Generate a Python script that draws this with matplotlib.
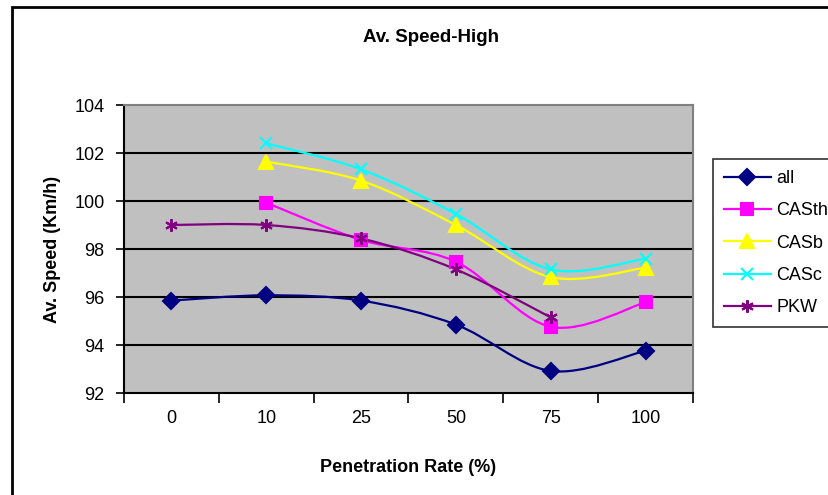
import numpy as np
import matplotlib
matplotlib.use("Agg")
import matplotlib.pyplot as plt
from matplotlib.path import Path
from matplotlib.patches import PathPatch, Rectangle
from matplotlib.lines import Line2D

plt.rcParams['font.family'] = ['Liberation Sans', 'DejaVu Sans']

categories = ["0", "10", "25", "50", "75", "100"]
all_vals   = [95.85, 96.07, 95.85, 94.85, 92.92, 93.76]
casth_vals = [None, 99.93, 98.38, 97.47, 94.76, 95.78]
casb_vals  = [None, 101.64, 100.85, 99.0, 96.83, 97.22]
casc_vals  = [None, 102.4, 101.32, 99.46, 97.15, 97.6]
pkw_vals   = [99.0, 99.0, 98.44, 97.15, 95.15, None]

series = [
    ("all", all_vals, "#000080", "D", 8),
    ("CASth", casth_vals, "#FF00FF", "s", 8),
    ("CASb", casb_vals, "#FFFF00", "^", 10),
    ("CASc", casc_vals, "#00FFFF", "x", 8),
    ("PKW", pkw_vals, "#800080", (6, 2, 0), 9),
]

W, H = 829, 495
fig = plt.figure(figsize=(W / 100, H / 100), dpi=100)
fig.patch.set_facecolor("white")

# outer chart border (extends beyond the cropped image)
fig.add_artist(Rectangle((12 / W, -0.1), 1.2, 1 - 7 / H + 0.1, transform=fig.transFigure,
                         fill=False, edgecolor="black", linewidth=2))

left, right, top, bottom = 124, 693, 105, 393
ax = fig.add_axes([left / W, 1 - bottom / H, (right - left) / W, (bottom - top) / H])
ax.set_facecolor("#C0C0C0")
ax.set_xlim(-0.5, len(categories) - 0.5)
ax.set_ylim(92, 104)
ax.set_yticks(np.arange(92, 105, 2))
ax.tick_params(axis='y', labelsize=13, length=6, width=1.2, pad=8, direction='out')

ax.set_xticks(np.arange(-0.5, len(categories), 1.0))
ax.set_xticklabels([])
ax.set_xticks(np.arange(len(categories)), minor=True)
ax.set_xticklabels(categories, minor=True)
ax.tick_params(axis='x', which='major', length=7, width=1.2, direction='out')
ax.tick_params(axis='x', which='minor', length=0, labelsize=13, pad=12)

for y in range(94, 104, 2):
    ax.axhline(y, color="black", linewidth=1.5, zorder=1)

for s in ["top", "right"]:
    ax.spines[s].set_color("#808080")
    ax.spines[s].set_linewidth(1.5)
for s in ["left", "bottom"]:
    ax.spines[s].set_color("black")
    ax.spines[s].set_linewidth(1.5)


def smooth_path(xs, ys):
    pts = np.column_stack([xs, ys]).astype(float)
    n = len(pts)
    verts = [pts[0]]
    codes = [Path.MOVETO]
    for i in range(n - 1):
        p0 = pts[i - 1] if i > 0 else pts[i]
        p1 = pts[i]
        p2 = pts[i + 1]
        p3 = pts[i + 2] if i + 2 < n else pts[i + 1]
        c1 = p1 + (p2 - p0) / 6.0
        c2 = p2 - (p3 - p1) / 6.0
        verts += [c1, c2, p2]
        codes += [Path.CURVE4] * 3
    return Path(verts, codes)


handles = []
for name, vals, color, marker, ms in series:
    xs = [i for i, v in enumerate(vals) if v is not None]
    ys = [v for v in vals if v is not None]
    ax.add_patch(PathPatch(smooth_path(xs, ys), fill=False, edgecolor=color,
                           linewidth=1.6, zorder=3))
    ax.plot(xs, ys, linestyle="none", marker=marker, markersize=ms, color=color,
            markeredgecolor=color, markeredgewidth=1.5, zorder=4)
    handles.append(Line2D([], [], color=color, linewidth=1.6, marker=marker,
                          markersize=ms, markeredgewidth=1.5, label=name))

ax.set_ylabel("Av. Speed (Km/h)", fontsize=13, fontweight="bold")
ax.yaxis.set_label_coords(-0.111, 0.5)
ax.set_xlabel("Penetration Rate (%)", fontsize=13, fontweight="bold")
ax.xaxis.set_label_coords(0.5, -0.229)

fig.text(431 / W, 1 - 38 / H, "Av. Speed-High", fontsize=13.5, fontweight="bold",
         ha="center", va="center")

leg = fig.legend(handles=handles, loc="upper left",
                 bbox_to_anchor=(713 / W, 1 - 159 / H), fontsize=13,
                 frameon=True, fancybox=False, edgecolor="black",
                 handlelength=2.6, handletextpad=0.3, labelspacing=0.85,
                 borderpad=0.6, borderaxespad=0)
leg.get_frame().set_linewidth(1.2)

fig.savefig("out.png", dpi=100)
